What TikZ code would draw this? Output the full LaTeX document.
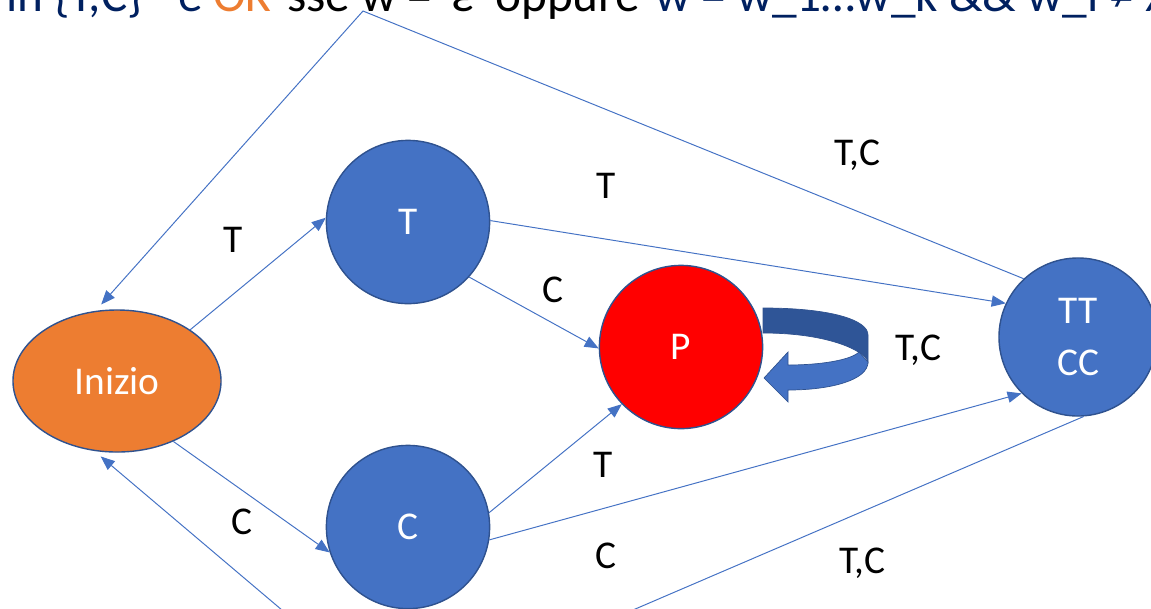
\documentclass[tikz,border=0pt]{standalone}
\usepackage{fontspec}
\setmainfont{Carlito}
\usetikzlibrary{arrows.meta,shapes.geometric,calc}
\definecolor{stblue}{RGB}{68,114,196}
\definecolor{stedge}{RGB}{47,82,143}
\definecolor{storange}{RGB}{237,125,49}
\definecolor{stnavy}{RGB}{0,32,96}
\definecolor{stdark}{RGB}{47,85,151}

\begin{document}
\begin{tikzpicture}[x=0.025cm, y=-0.025cm,
  every node/.style={font=\fontsize{28}{34}\selectfont},
  st/.style={circle, draw=stedge, line width=1pt, fill=stblue, text=white, minimum size=4.08cm, inner sep=0pt, align=center},
  arr/.style={draw=stblue, line width=0.7pt, -{Triangle[length=10pt, width=8pt]}},
  lb/.style={text=black, inner sep=0pt},
  hd/.style={anchor=base west, inner sep=0pt, font=\fontsize{35}{40}\selectfont}]
\useasboundingbox (0,0) rectangle (1151,608);
\clip (0,0) rectangle (1151,608);
% heading, only its lower edge is left in view
\node[hd, text=stnavy] (h1) at (6,11) {in \{T,C\}* è};
\node[hd, text=storange] (h2) at (213,11) {OK};
\node[hd, text=black] (h3) at (287,11) {sse w =};
\node[hd, text=black] (h4) at (451,11) {ε};
\node[hd, text=black] (h5) at (495,11) {oppure};
\node[hd, text=stnavy] (h6) at (655,11) {w = w\_1…w\_k \&\& w\_i ≠ x};
% states
\node[ellipse, draw=stedge, line width=1pt, fill=storange, text=white, minimum width=5.2cm, minimum height=3.55cm] (ini) at (117,381) {Inizio};
\node[st] (nT) at (408,222) {T};
\node[st] (nC) at (408,527) {C};
\node[st, fill=red] (nP) at (681,347) {P};
\node[st, minimum size=3.95cm, font=\fontsize{28}{37}\selectfont] (nTC) at (1078,337) {TT\\CC};
% transitions
\draw[arr] (ini.35) -- (nT.177);
\draw[arr] (ini.-47) -- (nC.198);
\draw[arr] (nT.-42) -- (nP.181);
\draw[arr] (nC.10) -- (nP.224);
\draw[arr] (nT.1) -- (nTC.155);
\draw[arr] (nC.-9) -- (nTC.225);
\coordinate (up) at (363,11);
\coordinate (down) at (400,710);
\draw[arr, shorten >=6pt] (nTC.133) -- (up) -- (ini.107);
\draw[arr, shorten >=6pt] (nTC.-86) -- (down) -- (ini.252);
% self loop on P
\begin{scope}[shift={(nP.center)}, draw=stedge, line width=0.5pt]
\filldraw[fill=stdark] (82,-39) .. controls (150,-39) and (187,-27) .. (187,-12) -- (187,15) .. controls (185,5) and (150,-14) .. (82,-14) -- cycle;
\filldraw[fill=stblue] (187,15) .. controls (187,33) and (150,43) .. (107,43) -- (107,55) -- (83,31) -- (107,5) -- (107,18) .. controls (140,18) and (170,13) .. (178,5) -- cycle;
\end{scope}
% labels
\node[lb] (l1) at (233,240) {T};
\node[lb] (l2) at (242,522) {C};
\node[lb] (l3) at (553,290) {C};
\node[lb] (l4) at (603,465) {T};
\node[lb] (l5) at (606,186) {T};
\node[lb] (l6) at (606,556) {C};
\node[lb] (l7) at (857,155) {T,C};
\node[lb] (l8) at (918,350) {T,C};
\node[lb] (l9) at (862,563) {T,C};
\end{tikzpicture}
\end{document}
